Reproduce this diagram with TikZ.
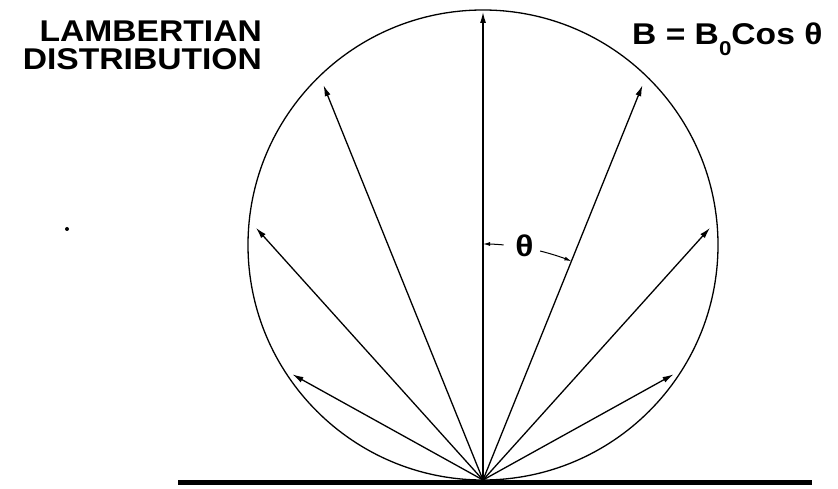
\documentclass[tikz,border=0pt]{standalone}
\usepackage{fontspec}
\setmainfont{Liberation Sans}
\newfontfamily\widesans[FakeStretch=1.12]{Liberation Sans}
\usetikzlibrary{arrows.meta,calc}

\begin{document}
\begin{tikzpicture}[x=1pt,y=1pt,
ray/.style={-{Latex[length=11pt,width=6pt]},line width=1.3pt},
dim/.style={-{Latex[length=7pt,width=4pt]},line width=1pt},
every node/.style={font=\widesans\fontsize{30}{28}\selectfont\bfseries,inner sep=0pt}]
\useasboundingbox (0,0) rectangle (838,488);
\coordinate (origin) at (483,8);
\coordinate (centre) at (483,243);
\coordinate (groundL) at (178,6);
\coordinate (groundR) at (812,6);
\draw[line width=1.3pt] (centre) circle (235);
\draw[line width=5pt] (groundL) -- (groundR);
% rays of the distribution
\foreach \a in {-61,-42,-22,22,42,61}
  \draw[ray] (origin) -- ++(90+\a:{470*cos(\a)-10});
\draw[ray] (origin) -- ++(90:468);
% angle mark
\node (theta) at ($(origin)+(80:238)$) {θ};
\draw[dim] ($(origin)+(85:236)$) arc[start angle=85,end angle=90,radius=236];
\draw[dim] ($(origin)+(76:236)$) arc[start angle=76,end angle=68,radius=236];
\node[anchor=north east,align=right] (title) at (262,467) {LAMBERTIAN\\DISTRIBUTION};
\node[anchor=base west] (law) at (632,443) {B = B\raisebox{-0.35em}{\fontsize{20}{20}\selectfont 0}Cos θ};
\fill (67,259) circle (2);
\end{tikzpicture}
\end{document}
